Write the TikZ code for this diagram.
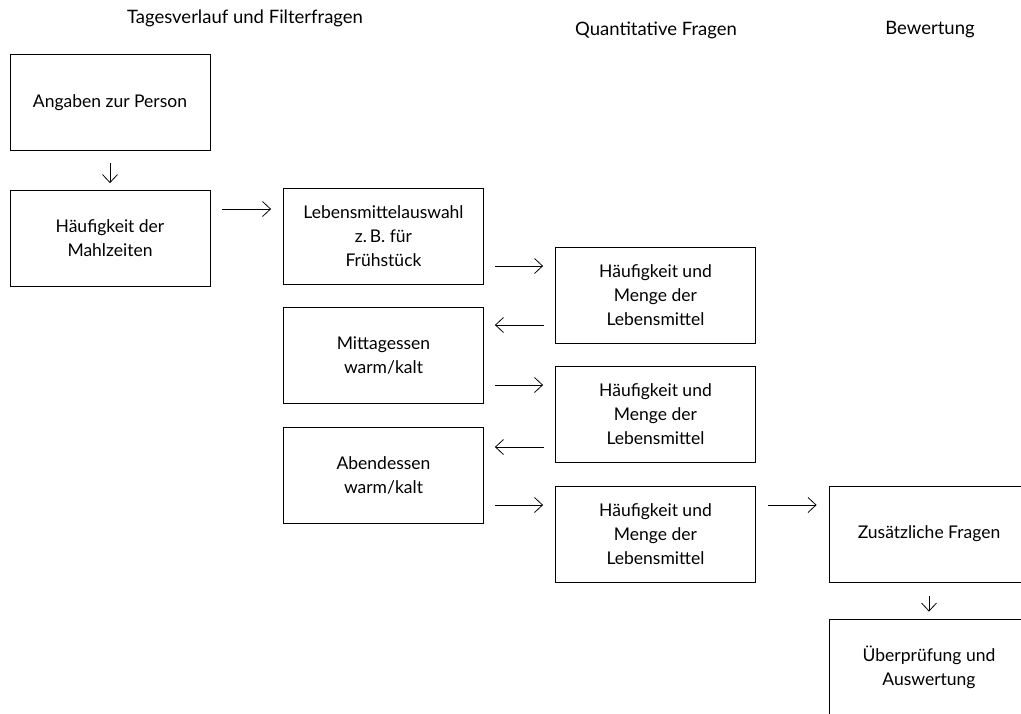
\documentclass[tikz,border=0pt]{standalone}
\usepackage{fontspec}
\setmainfont{Lato}
\usetikzlibrary{arrows.meta,positioning}
\begin{document}
\begin{tikzpicture}[x=1pt,y=-1pt,
  box/.style={draw, line width=0.8pt, minimum width=200pt, minimum height=96pt, inner sep=0pt, align=center, font=\fontsize{17.5}{24}\selectfont},
  head/.style={font=\fontsize{18.5}{20}\selectfont, inner sep=0pt},
  arr/.style={line width=0.8pt, -{Straight Barb[length=8pt,width=15pt,line width=0.8pt]}}]
\useasboundingbox (0,0) rectangle (1021,713);
\begin{scope}
\clip (0,0) rectangle (1021,713);
\node[head] (h1) at (245,18) {Tagesverlauf und Filterfragen};
\node[head] (h2) at (656,30) {Quantitative Fragen};
\node[head] (h3) at (930,30) {Bewertung};

\node[box] (a) at (110,102.5) {Angaben zur Person};
\node[box] (b) at (110,238.5) {Häufigkeit der\\Mahlzeiten};
\node[box] (c) at (383.5,236) {Lebensmittelauswahl\\z.\,B. für\\Frühstück};
\node[box] (d) at (383.5,355.5) {Mittagessen\\warm/kalt};
\node[box] (e) at (383.5,475.5) {Abendessen\\warm/kalt};
\node[box] (f) at (655.5,295) {Häufigkeit und\\Menge der\\Lebensmittel};
\node[box] (g) at (655.5,414.5) {Häufigkeit und\\Menge der\\Lebensmittel};
\node[box] (h) at (655.5,534) {Häufigkeit und\\Menge der\\Lebensmittel};
\node[box] (i) at (929,534) {Zusätzliche Fragen};
\node[box] (j) at (929,667) {Überprüfung und\\Auswertung};

\draw[arr] ([yshift=-12pt]a.south) -- ([yshift=7pt]b.north);
\draw[arr] ([xshift=12pt]b.east |- 0,209) -- ([xshift=-12pt]c.west |- 0,209);
\draw[arr] ([xshift=11pt]c.east |- 0,266) -- ([xshift=-12pt]f.west |- 0,266);
\draw[arr] ([xshift=-11pt]f.west |- 0,325) -- ([xshift=11pt]d.east |- 0,325);
\draw[arr] ([xshift=11pt]d.east |- 0,385) -- ([xshift=-12pt]g.west |- 0,385);
\draw[arr] ([xshift=-11pt]g.west |- 0,447) -- ([xshift=11pt]e.east |- 0,447);
\draw[arr] ([xshift=11pt]e.east |- 0,505) -- ([xshift=-12pt]h.west |- 0,505);
\draw[arr] ([xshift=12pt]h.east |- 0,505) -- ([xshift=-12pt]i.west |- 0,505);
\draw[arr] ([yshift=-14pt]i.south) -- ([yshift=7pt]j.north);
\end{scope}
\end{tikzpicture}
\end{document}
